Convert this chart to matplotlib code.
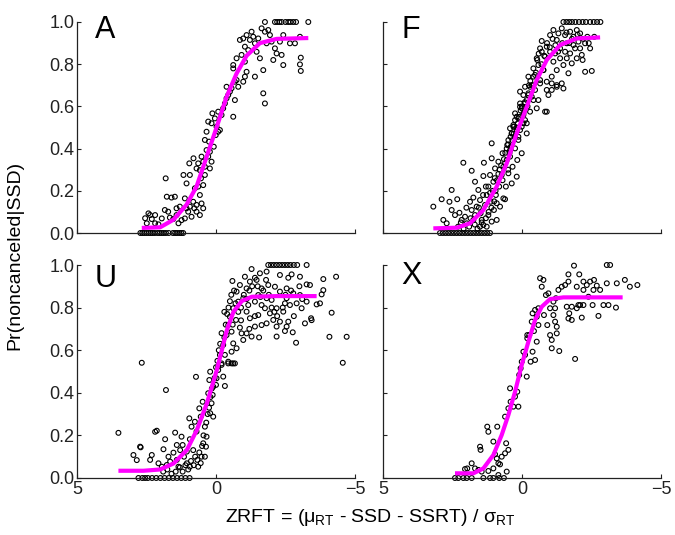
import matplotlib
matplotlib.use("Agg")
import matplotlib.pyplot as plt

plt.rcParams['font.family'] = ['Liberation Sans', 'DejaVu Sans']
plt.rcParams['mathtext.fontset'] = 'custom'
plt.rcParams['mathtext.rm'] = 'Liberation Sans'
plt.rcParams['mathtext.it'] = 'Liberation Sans:italic'

# ---------------- Panel A ----------------
xA = [2.72, 2.65, 2.58, 2.50, 2.42, 2.35, 2.28, 2.20, 2.10, 2.02, 1.95, 1.88, 1.80, 1.70, 1.55, 1.47, 1.40, 1.32, 1.25, 1.18,
      -1.76, -2.12, -2.20, -2.28, -2.36, -2.50, -2.60, -2.68, -2.78, -2.88, -3.32,
      2.43, 2.37, 2.55, 2.31, 2.49, 2.19, 1.81, 1.77, 1.60, 1.48, 1.84, 1.72, 1.66, 1.54, 1.42, 1.35, 1.24, 1.12, 1.12, 1.06,
      1.00, 0.94, 0.88, 0.78, 0.70, 0.58, 0.52, 0.46, 0.40, 0.64, 0.76, 0.94, 0.96, 1.17, 1.06, 0.81, 0.64, 0.70, 0.52, 0.46,
      0.34, 0.28, 0.16, 0.22, 0.40, 0.34, 0.28, 0.16, 0.13, -0.02, -0.08, -0.14, -0.20, -0.26, -0.32, -0.38, -0.44, -0.50,
      -0.62, -0.68, -0.38, -0.56, -0.62, -0.68, -0.62, -0.74, -0.98, -1.04, -1.10, -1.04, -0.92, -0.86, -0.98, -1.04, -1.10,
      -1.22, -1.28, -1.34, -1.40, -1.46, -1.58, -1.40, -1.70, -1.70, -1.76, -1.64, -1.76, -1.88, -1.94, -1.82, -2.00, -2.12,
      -2.18, -2.30, -2.36, -2.42, -2.42, -2.06, -2.66, -2.84, -3.02, -3.05, -3.02, -3.05, -1.52, -1.16, -0.74, -0.80, 0.04,
      -0.08, 0.01, 0.25, 0.08, 0.22, 0.40, 0.58, 0.54, 0.82, 0.70, 1.42, 1.30, 2.19, 2.07, 1.95, 0.46, 0.58]
yA = [0, 0, 0, 0, 0, 0, 0, 0, 0, 0, 0, 0, 0, 0, 0, 0, 0, 0, 0, 0,
      1, 1, 1, 1, 1, 1, 1, 1, 1, 1, 1,
      0.093, 0.085, 0.070, 0.066, 0.046, 0.046, 0.259, 0.172, 0.168, 0.172, 0.109, 0.101, 0.073, 0.066, 0.085, 0.046, 0.061,
      0.069, 0.164, 0.117, 0.101, 0.125, 0.077, 0.117, 0.133, 0.180, 0.140, 0.227, 0.275, 0.220, 0.212, 0.275, 0.330, 0.275,
      0.235, 0.354, 0.330, 0.306, 0.362, 0.338, 0.393, 0.362, 0.338, 0.385, 0.441, 0.480, 0.528, 0.520, 0.567, 0.504, 0.480,
      0.488, 0.559, 0.591, 0.614, 0.638, 0.654, 0.670, 0.551, 0.630, 0.693, 0.686, 0.780, 0.717, 0.796, 0.725, 0.717, 0.741,
      0.764, 0.812, 0.844, 0.915, 0.922, 0.883, 0.938, 0.915, 0.954, 0.930, 0.899, 0.859, 0.828, 0.741, 0.772, 0.662, 0.614,
      0.970, 0.954, 0.962, 0.938, 0.899, 0.907, 0.875, 0.851, 0.907, 0.844, 0.938, 0.796, 0.820, 0.899, 0.899, 0.930, 0.831,
      0.799, 0.768, 0.922, 0.867, 0.828, 0.693, 0.543, 0.575, 0.464, 0.433, 0.409, 0.306, 0.314, 0.298, 0.259, 0.148, 0.101,
      0.117, 0.125, 0.085, 0.041, 0.069, 0.117, 0.085]
curve_xA = [2.67, 2.01, 1.53, 1.06, 0.70, 0.34, -0.02, -0.38, -0.74, -1.10, -1.58, -2.18, -3.32]
curve_yA = [0.024, 0.027, 0.063, 0.134, 0.22, 0.36, 0.50, 0.645, 0.756, 0.84, 0.90, 0.92, 0.924]

# ---------------- Panel F ----------------
xF = [2.95, 2.85, 2.75, 2.65, 2.55, 2.45, 2.35, 2.25, 2.15, 2.05, 1.95, 1.85, 1.75, 1.65, 1.55, 1.45, 1.35, 1.25, 1.15,
      -1.49, -1.60, -1.70, -1.80, -1.92, -2.05, -2.18, -2.30, -2.45, -2.58, -2.70, -2.82,
      3.19, 2.89, 2.53, 2.61, 2.33, 2.11, 1.81, 1.69, 1.39, 1.37, 1.09, 1.09, 2.83, 2.71, 2.53, 2.41, 2.25, 2.17, 2.05, 1.99,
      1.87, 1.81, 1.75, 1.69, 1.63, 1.57, 1.51, 1.49, 1.45, 1.39, 1.33, 1.27, 1.21, 1.21, 1.15, 1.13, 1.09, 1.03, 1.01, 0.97,
      0.94, 0.91, 0.85, 0.82, 0.79, 0.73, 0.70, 0.67, 0.61, 0.58, 0.53, 0.49, 0.43, 0.41, 0.37, 0.34, 0.29, 0.25, 0.19, 0.17,
      0.13, 0.07, 0.01, -0.05, -0.17, 0.61, 1.75, 0.91, 1.27, 1.51,
      -0.71, -0.89, -0.83, -1.01, -1.13, -1.25, -1.31, -1.37, -1.43, -1.55, -1.61, -1.73, -1.85, -1.91, -1.97, -2.03, -2.09,
      -2.15, -2.18, -2.27, -2.51, -1.49, -1.67, -1.43, -1.25, -1.07, -0.89, -0.95, -0.89, -0.53, -0.41, -0.23, -0.11, -0.05,
      0.07, 0.13, 0.25, 0.31, 0.37, 0.43, 0.19, -0.17, -0.29, -0.35, -0.47, -0.59, -0.65, -0.77, -1.13, -1.25, -1.37, -1.61,
      -1.79, -1.97, -2.09, -0.65, -0.71, -0.53, -0.41, -0.23, -0.11, -0.05, 0.07, 0.01, -0.89, -1.07, -1.01, -1.19, -1.55,
      -1.73, -1.85, -2.27, -2.35, -2.45,
      0.49, 0.43, 0.31, 0.19, 0.07, 0.01, -0.05, -0.17, -0.23, -0.29, -0.35, -0.47, -0.59, -0.83, 0.37, 0.13, 0.55, 0.67,
      0.25, -0.11, -0.41, -0.65, -0.77, -1.07, -1.49, -1.25,
      2.30, 2.10, 1.90, 1.70, 1.60, 1.45, 1.30, 1.20, 1.10, 1.00, 0.95, 0.90, 0.85, 0.80, 0.75, 0.65, 0.60, 0.55, 0.50, 0.45,
      0.40, 0.35, 0.30, 0.25, 0.20, 0.15, 0.10, 0.05, 0.00, -0.10, -0.20, -0.25, -0.30, -0.40, -0.50, -0.55, -0.60, -0.70,
      -0.80, -0.90, -1.00, -1.10, -1.20, -1.30, -1.45, -1.60, -1.70, -1.80, -2.00, -2.20, -2.40, -2.60, 1.55, 1.40, 1.30,
      1.15, 1.05, 0.98, 0.70, 0.50, 2.00, 2.20, 1.85]
yF = [0, 0, 0, 0, 0, 0, 0, 0, 0, 0, 0, 0, 0, 0, 0, 0, 0, 0, 0,
      1, 1, 1, 1, 1, 1, 1, 1, 1, 1, 1, 1,
      0.125, 0.160, 0.204, 0.148, 0.160, 0.333, 0.295, 0.243, 0.270, 0.333, 0.425, 0.354, 0.062, 0.046, 0.109, 0.085, 0.096,
      0.062, 0.077, 0.046, 0.148, 0.109, 0.062, 0.085, 0.125, 0.204, 0.156, 0.093, 0.062, 0.038, 0.133, 0.180, 0.220, 0.085,
      0.275, 0.148, 0.054, 0.243, 0.109, 0.306, 0.180, 0.062, 0.338, 0.220, 0.125, 0.275, 0.378, 0.164, 0.330, 0.220, 0.417,
      0.283, 0.362, 0.456, 0.235, 0.314, 0.504, 0.401, 0.267, 0.346, 0.441, 0.488, 0.378, 0.520, 0.472, 0.160, 0.168, 0.141,
      0.030, 0.030,
      0.910, 0.883, 0.836, 0.938, 0.962, 0.915, 0.946, 0.875, 0.970, 0.938, 0.899, 0.954, 0.930, 0.875, 0.962, 0.907, 0.946,
      0.844, 0.820, 0.764, 0.768, 0.796, 0.757, 0.709, 0.693, 0.678, 0.678, 0.654, 0.575, 0.591, 0.630, 0.654, 0.614, 0.559,
      0.614, 0.543, 0.567, 0.512, 0.472, 0.496, 0.488, 0.520, 0.575, 0.701, 0.749, 0.796, 0.725, 0.772, 0.812, 0.772, 0.828,
      0.828, 0.804, 0.828, 0.875, 0.875, 0.859, 0.828, 0.780, 0.741, 0.693, 0.654, 0.670, 0.591, 0.717, 0.741, 0.859, 0.851,
      0.859, 0.851, 0.891, 0.899, 0.930, 0.875,
      0.44, 0.393, 0.504, 0.551, 0.598, 0.504, 0.567, 0.630, 0.662, 0.693, 0.646, 0.678, 0.630, 0.575, 0.472, 0.456, 0.346,
      0.314, 0.535, 0.535, 0.741, 0.709, 0.772, 0.709, 0.685, 0.701,
      0.03, 0.02, 0.03, 0.04, 0.02, 0.05, 0.07, 0.10, 0.12, 0.15, 0.20, 0.25, 0.28, 0.30, 0.32, 0.35, 0.38, 0.40, 0.42, 0.38,
      0.41, 0.44, 0.47, 0.46, 0.50, 0.52, 0.55, 0.58, 0.60, 0.62, 0.60, 0.70, 0.72, 0.70, 0.76, 0.82, 0.85, 0.80, 0.84, 0.90,
      0.88, 0.92, 0.89, 0.86, 0.90, 0.95, 0.90, 0.92, 0.94, 0.92, 0.90, 0.93, 0.12, 0.18, 0.22, 0.19, 0.20, 0.26, 0.25, 0.30,
      0.12, 0.05, 0.07]
curve_xF = [3.19, 2.35, 1.87, 1.39, 0.91, 0.55, 0.19, -0.17, -0.53, -0.89, -1.37, -1.97, -2.81]
curve_yF = [0.022, 0.025, 0.046, 0.109, 0.22, 0.33, 0.472, 0.598, 0.725, 0.82, 0.891, 0.922, 0.927]

# ---------------- Panel U ----------------
xU = [2.79, 2.65, 2.55, 2.45, 2.30, 2.15, 2.00, 1.85, 1.70, 1.55, 1.40, 1.25, 1.10, 0.95,
      -1.88, -1.98, -2.08, -2.18, -2.28, -2.38, -2.48, -2.58, -2.68, -2.80, -2.92, -3.26,
      3.51, 2.67, 1.80, 0.72, 2.73, 2.97, 2.85, 2.19, 2.13, -4.56, -4.70, -4.08, -4.16, -3.86, -4.32, -2.88, -3.74, -3.80,
      -3.44, -3.20, -0.59, -1.28,
      2.71, 2.31, 2.37, 1.83, 1.89, 1.71, 1.65, 2.07, 1.95, 1.77, 1.53, 1.47, 1.41, 1.35, 1.24, 1.20, 1.29, 1.15, 1.05, 0.96,
      0.94, 0.88, 0.82, 0.76, 0.70, 0.67, 0.60, 0.55, 0.48, 0.46, 0.40, 0.36, 0.34, 0.28, 0.24, 0.21, 0.16, 0.10, 0.21, 0.10,
      0.00, -0.02, -0.08, -0.20, -0.26, -0.32, -0.44, -0.56, -0.68, 0.12, 0.64, 0.94, 0.52, 1.05, 1.41,
      -3.86, -2.76, -3.42, -3.62, -2.18, -2.48, -2.60, -2.30, -2.06, -1.82, -1.64, -1.40, -1.28, -1.10, -0.92, -0.74, -0.62,
      -0.56, -0.44, -0.62, -0.32, -0.20, -0.98, -0.86, -1.22, -1.52, -1.76, -1.94, -2.18, -2.42, -2.66, -2.90, -3.08, -3.26,
      -3.02, -2.78, -2.54, -2.30, -2.12, -1.88, -1.64, -1.46, -1.22, -1.10, -0.98, -0.80, -0.74, -0.86, -1.04, -1.58, -1.82,
      -2.30, -2.72, -3.02, -3.38, -3.26, -0.50, -0.44, -0.38, -0.26, -0.14, -0.08, -0.62, -0.56, -0.72, -1.16, -1.40, -1.82,
      -2.00, -2.54, -1.10, -1.64, -1.52, -2.18, -2.54, -2.48,
      1.90, 1.75, 1.60, 1.45, 1.30, 1.20, 1.10, 1.00, 0.90, 0.80, 0.75, 0.60, 0.55, 0.50, 0.45, 0.40, 0.35, 0.30, 0.25, 0.20,
      0.15, 0.05, 0.00, -0.05, -0.10, -0.15, -0.20, -0.30, -0.35, -0.40, -0.45, -0.50, -0.55, -0.65, -0.70, -0.80, -0.90,
      -1.00, -1.10, -1.20, -1.30, -1.40, -1.50, -1.60, -1.70, -1.80, -1.90, -2.00, -2.10, -2.20, -2.40, -2.50, -2.60, -2.70,
      -2.80, -3.00, -3.10, -0.30, -0.60, -0.90, -1.20, -1.40, -1.55]
yU = [0, 0, 0, 0, 0, 0, 0, 0, 0, 0, 0, 0, 0, 0,
      1, 1, 1, 1, 1, 1, 1, 1, 1, 1, 1, 1,
      0.212, 0.541, 0.413, 0.475, 0.147, 0.108, 0.084, 0.217, 0.222, 0.541, 0.663, 0.663, 0.776, 0.882, 0.945, 0.635, 0.820,
      0.862, 0.741, 0.726, 0.925, 0.981,
      0.144, 0.108, 0.085, 0.182, 0.135, 0.100, 0.077, 0.069, 0.053, 0.061, 0.119, 0.213, 0.085, 0.053, 0.194, 0.155, 0.131,
      0.100, 0.069, 0.280, 0.182, 0.241, 0.131, 0.264, 0.218, 0.085, 0.327, 0.288, 0.358, 0.163, 0.241, 0.147, 0.194, 0.398,
      0.460, 0.304, 0.351, 0.288, 0.499, 0.429, 0.437, 0.468, 0.507, 0.531, 0.476, 0.432, 0.538, 0.538, 0.538, 0.390, 0.053,
      0.053, 0.100, 0.124, 0.155,
      0.934, 0.684, 0.750, 0.815, 0.664, 0.690, 0.734, 0.734, 0.742, 0.726, 0.718, 0.711, 0.664, 0.679, 0.679, 0.609, 0.632,
      0.593, 0.546, 0.538, 0.578, 0.538, 0.648, 0.706, 0.750, 0.765, 0.797, 0.773, 0.797, 0.781, 0.812, 0.820, 0.797, 0.828,
      0.859, 0.867, 0.890, 0.875, 0.898, 0.906, 0.890, 0.930, 0.922, 0.890, 0.844, 0.828, 0.875, 0.906, 0.945, 0.961, 0.969,
      0.953, 0.956, 0.945, 0.906, 0.909, 0.757, 0.718, 0.671, 0.625, 0.578, 0.523, 0.797, 0.687, 0.742, 0.812, 0.828, 0.844,
      0.836, 0.844, 0.781, 0.812, 0.859, 0.711, 0.711, 0.820,
      0.03, 0.04, 0.02, 0.03, 0.05, 0.03, 0.06, 0.04, 0.08, 0.06, 0.10, 0.12, 0.07, 0.15, 0.20, 0.10, 0.26, 0.30, 0.33, 0.38,
      0.42, 0.47, 0.52, 0.55, 0.60, 0.63, 0.68, 0.66, 0.72, 0.77, 0.80, 0.83, 0.86, 0.88, 0.82, 0.78, 0.80, 0.86, 0.84, 0.88,
      0.90, 0.94, 0.90, 0.85, 0.88, 0.93, 0.86, 0.80, 0.78, 0.76, 0.80, 0.86, 0.94, 0.88, 0.76, 0.90, 0.84, 0.78, 0.72, 0.74,
      0.70, 0.76, 0.66]
curve_xU = [3.51, 2.61, 2.01, 1.53, 1.05, 0.69, 0.33, 0.15, -0.03, -0.21, -0.39, -0.63, -0.93, -1.29, -2.18, -3.62]
curve_yU = [0.034, 0.034, 0.040, 0.068, 0.131, 0.225, 0.350, 0.428, 0.507, 0.600, 0.694, 0.781, 0.831, 0.851, 0.854, 0.854]

# ---------------- Panel X ----------------
xX = [2.41, 2.29, 2.11, 1.99, 1.81, 1.39, 1.15, 1.03, 0.82, 0.65,
      2.05, 1.97, 1.81, 1.69, 1.57, 1.45, 1.21, 1.03, 0.85, 1.51, 1.49, 1.25, 1.21, 0.89, 1.03, 0.97, 0.91, 0.85, 0.79,
      0.73, 0.61, 0.49, 0.57, 0.61, 0.49, 0.41, 0.43, 0.31, 0.25, 0.17, 0.13, 0.10, 0.05, 0.01, -0.05, -0.11, -0.17, -0.19,
      -0.26, -0.31, -0.38, -0.47, -0.53, -0.43, -0.35, -0.38, -0.47, -0.59, -0.65, -0.77, -0.71, -0.86, -0.95, -0.79, -0.91,
      -1.01, -1.07, -1.25, -1.25, -1.34, -1.13, -1.19, -1.13, -1.01, -1.22, -1.31, -1.43, -1.55, -1.67, -1.67, -1.87, -2.06,
      -1.70, -1.67, -1.79, -1.91, -1.61, -1.79, -1.97, -2.09, -2.15, -1.97, -2.21, -2.33, -2.45, -2.59, -2.69, -2.81, -2.57,
      -2.21, -2.39, -2.54, -2.75, -2.93, -3.11, -3.05, -3.05, -3.17, -3.41, -3.38, -3.70, -3.88, -4.15, -2.21, -2.03, -1.19,
      -0.53, -0.59, -0.19, -1.07, 0.55]
yX = [0, 0, 0, 0, 0, 0, 0, 0, 0, 0,
      0.042, 0.045, 0.069, 0.045, 0.038, 0.030, 0.033, 0.045, 0.014, 0.147, 0.132, 0.241, 0.217, 0.241, 0.171, 0.111, 0.092,
      0.069, 0.064, 0.100, 0.116, 0.132, 0.163, 0.288, 0.327, 0.358, 0.421, 0.335, 0.382, 0.405, 0.335, 0.484, 0.515, 0.546,
      0.593, 0.578, 0.476, 0.671, 0.671, 0.546, 0.593, 0.554, 0.640, 0.690, 0.734, 0.773, 0.789, 0.718, 0.938, 0.930, 0.898,
      0.859, 0.867, 0.765, 0.718, 0.671, 0.609, 0.710, 0.679, 0.596, 0.765, 0.797, 0.828, 0.797, 0.844, 0.883, 0.898, 0.906,
      0.922, 0.956, 0.997, 0.956, 0.773, 0.749, 0.742, 0.559, 0.804, 0.804, 0.797, 0.812, 0.753, 0.898, 0.922, 0.906, 0.922,
      0.930, 0.903, 0.883, 0.883, 0.883, 0.851, 0.812, 0.761, 0.812, 0.812, 0.914, 1.0, 1.0, 0.914, 0.800, 0.930, 0.898,
      0.906, 0.812, 0.812, 0.734, 0.757, 0.797, 0.656, 0.648, 0.030]
curve_xX = [2.41, 1.75, 1.39, 1.03, 0.73, 0.49, 0.25, 0.01, -0.23, -0.47, -0.71, -1.01, -1.49, -3.62]
curve_yX = [0.022, 0.022, 0.045, 0.108, 0.202, 0.296, 0.405, 0.531, 0.640, 0.742, 0.804, 0.840, 0.848, 0.848]

panel_labels = ['A', 'F', 'U', 'X']
x_ticks = [5, 0, -5]
x_ticklabels = ['5', '0', '\u22125']
y_ticks = [0, 0.2, 0.4, 0.6, 0.8, 1.0]
y_ticklabels = ['0.0', '0.2', '0.4', '0.6', '0.8', '1.0']

fig = plt.figure(figsize=(6.75, 5.35), dpi=100)
W, H = 675, 535
def rect(l, r, t, b):
    return [l / W, 1 - b / H, (r - l) / W, (b - t) / H]

axes_rects = [rect(77, 355, 22, 233), rect(383, 661, 22, 233),
              rect(77, 355, 265, 478), rect(383, 661, 265, 478)]
data = [(xA, yA, curve_xA, curve_yA), (xF, yF, curve_xF, curve_yF),
        (xU, yU, curve_xU, curve_yU), (xX, yX, curve_xX, curve_yX)]
label_y = [0.924, 0.924, 0.897, 0.91]

for i, (r, (xs, ys, cx, cy)) in enumerate(zip(axes_rects, data)):
    ax = fig.add_axes(r)
    ax.scatter(xs, ys, s=12, facecolors='none', edgecolors='black', linewidths=0.8, zorder=2, clip_on=False)
    ax.plot(cx, cy, color='#ff00ff', lw=3.0, solid_capstyle='butt', zorder=3)
    ax.set_xlim(5, -5)
    ax.set_ylim(0, 1)
    ax.spines['top'].set_visible(False)
    ax.spines['right'].set_visible(False)
    for s in ['left', 'bottom']:
        ax.spines[s].set_linewidth(0.9)
        ax.spines[s].set_color('#222222')
    ax.set_xticks(x_ticks)
    ax.set_yticks(y_ticks)
    ax.tick_params(direction='in', length=3, width=0.8, labelsize=13, colors='#222222', pad=2)
    if i >= 2:
        ax.set_xticklabels(x_ticklabels)
    else:
        ax.set_xticklabels([])
    if i % 2 == 0:
        ax.set_yticklabels(y_ticklabels)
    else:
        ax.set_yticklabels([])
    ax.text(0.065, label_y[i], panel_labels[i], transform=ax.transAxes, fontsize=22,
            va='baseline', ha='left', color='black')

fig.text(0.022, 0.523, 'Pr(noncanceled|SSD)', rotation=90, ha='center', va='center', fontsize=14)
fig.text(0.548, 0.024, 'ZRFT = (\u03bc$_{\\rm RT}$ - SSD - SSRT) / \u03c3$_{\\rm RT}$', ha='center', va='baseline', fontsize=14)

fig.savefig('out.png', dpi=100)
